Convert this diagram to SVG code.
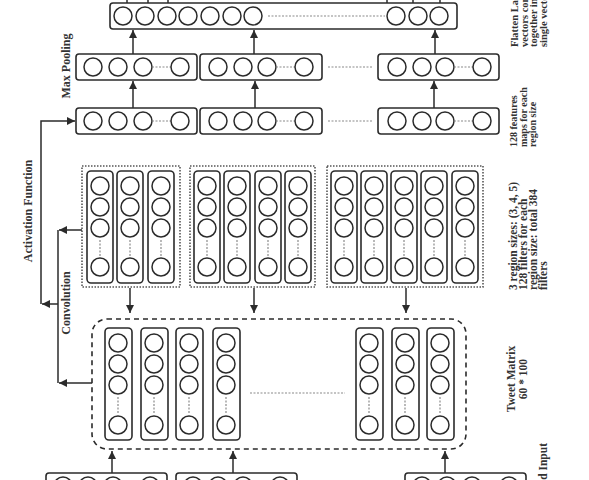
<svg xmlns="http://www.w3.org/2000/svg" width="589" height="480" viewBox="0 0 589 480">
<style>
.box{fill:none;stroke:#2b2b2b;stroke-width:1.6}
.c{fill:#fff;stroke:#2b2b2b;stroke-width:1.5}
.dot{fill:none;stroke:#8a8a8a;stroke-width:1.2;stroke-dasharray:2 1.5}
.grp{fill:none;stroke:#555;stroke-width:1.6;stroke-dasharray:1.5 1.5}
.tm{fill:none;stroke:#2b2b2b;stroke-width:1.6;stroke-dasharray:5 4}
.ln{fill:none;stroke:#2b2b2b;stroke-width:1.5;marker-end:url(#ah)}
.pl{fill:none;stroke:#2b2b2b;stroke-width:1.5}
.lbl{font-family:"Liberation Serif","Times New Roman",serif;font-weight:bold;fill:#333}
</style>
<defs>
<marker id="ah" markerUnits="userSpaceOnUse" markerWidth="9" markerHeight="8" refX="8" refY="4" orient="auto"><path d="M0,0 L8,4 L0,8 z" fill="#2b2b2b"/></marker>
</defs>
<rect width="589" height="480" fill="#fff"/>

<g id="flatten">
<rect class="box" x="110" y="3" width="347" height="26" rx="3"/>
<circle class="c" cx="123" cy="16" r="9"/><circle class="c" cx="145" cy="16" r="9"/><circle class="c" cx="167" cy="16" r="9"/><circle class="c" cx="188" cy="16" r="9"/><circle class="c" cx="210" cy="16" r="9"/><circle class="c" cx="232" cy="16" r="9"/><circle class="c" cx="253" cy="16" r="9"/>
<line class="dot" x1="268" y1="16" x2="385" y2="16"/>
<circle class="c" cx="396" cy="16" r="9"/><circle class="c" cx="418" cy="16" r="9"/><circle class="c" cx="439" cy="16" r="9"/>
</g>

<g id="maxpool">
<rect class="box" x="76" y="54" width="121" height="26" rx="3"/>
<circle class="c" cx="93" cy="67" r="9"/><circle class="c" cx="118" cy="67" r="9"/><circle class="c" cx="143" cy="67" r="9"/><line class="dot" x1="152" y1="67" x2="171" y2="67"/><circle class="c" cx="180" cy="67" r="9"/>
<rect class="box" x="200" y="54" width="122" height="26" rx="3"/>
<circle class="c" cx="218" cy="67" r="9"/><circle class="c" cx="243" cy="67" r="9"/><circle class="c" cx="267" cy="67" r="9"/><line class="dot" x1="276" y1="67" x2="295" y2="67"/><circle class="c" cx="304" cy="67" r="9"/>
<line class="dot" x1="328" y1="67" x2="372" y2="67"/>
<rect class="box" x="378" y="54" width="121" height="26" rx="3"/>
<circle class="c" cx="397" cy="67" r="9"/><circle class="c" cx="422" cy="67" r="9"/><circle class="c" cx="445" cy="67" r="9"/><line class="dot" x1="454" y1="67" x2="473" y2="67"/><circle class="c" cx="482" cy="67" r="9"/>
</g>

<g id="featuremaps">
<rect class="box" x="76" y="108" width="121" height="26" rx="3"/>
<circle class="c" cx="93" cy="121" r="9"/><circle class="c" cx="118" cy="121" r="9"/><circle class="c" cx="143" cy="121" r="9"/><line class="dot" x1="152" y1="121" x2="171" y2="121"/><circle class="c" cx="180" cy="121" r="9"/>
<rect class="box" x="200" y="108" width="122" height="26" rx="3"/>
<circle class="c" cx="218" cy="121" r="9"/><circle class="c" cx="243" cy="121" r="9"/><circle class="c" cx="267" cy="121" r="9"/><line class="dot" x1="276" y1="121" x2="295" y2="121"/><circle class="c" cx="304" cy="121" r="9"/>
<line class="dot" x1="328" y1="121" x2="372" y2="121"/>
<rect class="box" x="378" y="108" width="121" height="26" rx="3"/>
<circle class="c" cx="397" cy="121" r="9"/><circle class="c" cx="422" cy="121" r="9"/><circle class="c" cx="445" cy="121" r="9"/><line class="dot" x1="454" y1="121" x2="473" y2="121"/><circle class="c" cx="482" cy="121" r="9"/>
</g>

<g id="filters1">
<rect class="grp" x="82" y="166" width="98" height="121"/>
<rect class="box" x="87" y="171" width="26" height="112" rx="4"/><circle class="c" cx="100" cy="186" r="9"/><circle class="c" cx="100" cy="207" r="9"/><circle class="c" cx="100" cy="228" r="9"/><line class="dot" x1="100" y1="240" x2="100" y2="256"/><circle class="c" cx="100" cy="267" r="9"/>
<rect class="box" x="117" y="171" width="26" height="112" rx="4"/><circle class="c" cx="130" cy="186" r="9"/><circle class="c" cx="130" cy="207" r="9"/><circle class="c" cx="130" cy="228" r="9"/><line class="dot" x1="130" y1="240" x2="130" y2="256"/><circle class="c" cx="130" cy="267" r="9"/>
<rect class="box" x="148" y="171" width="26" height="112" rx="4"/><circle class="c" cx="161" cy="186" r="9"/><circle class="c" cx="161" cy="207" r="9"/><circle class="c" cx="161" cy="228" r="9"/><line class="dot" x1="161" y1="240" x2="161" y2="256"/><circle class="c" cx="161" cy="267" r="9"/>
</g>

<g id="filters2">
<rect class="grp" x="190" y="166" width="125" height="121"/>
<rect class="box" x="194" y="171" width="26" height="112" rx="4"/><circle class="c" cx="207" cy="186" r="9"/><circle class="c" cx="207" cy="207" r="9"/><circle class="c" cx="207" cy="228" r="9"/><line class="dot" x1="207" y1="240" x2="207" y2="256"/><circle class="c" cx="207" cy="267" r="9"/>
<rect class="box" x="224" y="171" width="26" height="112" rx="4"/><circle class="c" cx="237" cy="186" r="9"/><circle class="c" cx="237" cy="207" r="9"/><circle class="c" cx="237" cy="228" r="9"/><line class="dot" x1="237" y1="240" x2="237" y2="256"/><circle class="c" cx="237" cy="267" r="9"/>
<rect class="box" x="255" y="171" width="26" height="112" rx="4"/><circle class="c" cx="268" cy="186" r="9"/><circle class="c" cx="268" cy="207" r="9"/><circle class="c" cx="268" cy="228" r="9"/><line class="dot" x1="268" y1="240" x2="268" y2="256"/><circle class="c" cx="268" cy="267" r="9"/>
<rect class="box" x="285" y="171" width="26" height="112" rx="4"/><circle class="c" cx="298" cy="186" r="9"/><circle class="c" cx="298" cy="207" r="9"/><circle class="c" cx="298" cy="228" r="9"/><line class="dot" x1="298" y1="240" x2="298" y2="256"/><circle class="c" cx="298" cy="267" r="9"/>
</g>

<g id="filters3">
<rect class="grp" x="327" y="166" width="156" height="121"/>
<rect class="box" x="331" y="171" width="26" height="112" rx="4"/><circle class="c" cx="344" cy="186" r="9"/><circle class="c" cx="344" cy="207" r="9"/><circle class="c" cx="344" cy="228" r="9"/><line class="dot" x1="344" y1="240" x2="344" y2="256"/><circle class="c" cx="344" cy="267" r="9"/>
<rect class="box" x="361" y="171" width="26" height="112" rx="4"/><circle class="c" cx="374" cy="186" r="9"/><circle class="c" cx="374" cy="207" r="9"/><circle class="c" cx="374" cy="228" r="9"/><line class="dot" x1="374" y1="240" x2="374" y2="256"/><circle class="c" cx="374" cy="267" r="9"/>
<rect class="box" x="391" y="171" width="26" height="112" rx="4"/><circle class="c" cx="404" cy="186" r="9"/><circle class="c" cx="404" cy="207" r="9"/><circle class="c" cx="404" cy="228" r="9"/><line class="dot" x1="404" y1="240" x2="404" y2="256"/><circle class="c" cx="404" cy="267" r="9"/>
<rect class="box" x="421" y="171" width="26" height="112" rx="4"/><circle class="c" cx="434" cy="186" r="9"/><circle class="c" cx="434" cy="207" r="9"/><circle class="c" cx="434" cy="228" r="9"/><line class="dot" x1="434" y1="240" x2="434" y2="256"/><circle class="c" cx="434" cy="267" r="9"/>
<rect class="box" x="452" y="171" width="26" height="112" rx="4"/><circle class="c" cx="465" cy="186" r="9"/><circle class="c" cx="465" cy="207" r="9"/><circle class="c" cx="465" cy="228" r="9"/><line class="dot" x1="465" y1="240" x2="465" y2="256"/><circle class="c" cx="465" cy="267" r="9"/>
</g>

<g id="tweetmatrix">
<rect class="tm" x="92" y="319" width="374" height="130" rx="15"/>
<rect class="box" x="105" y="328" width="27" height="112" rx="4"/><circle class="c" cx="118" cy="343" r="9"/><circle class="c" cx="118" cy="364" r="9"/><circle class="c" cx="118" cy="385" r="9"/><line class="dot" x1="118" y1="397" x2="118" y2="413"/><circle class="c" cx="118" cy="425" r="9"/>
<rect class="box" x="141" y="328" width="27" height="112" rx="4"/><circle class="c" cx="154" cy="343" r="9"/><circle class="c" cx="154" cy="364" r="9"/><circle class="c" cx="154" cy="385" r="9"/><line class="dot" x1="154" y1="397" x2="154" y2="413"/><circle class="c" cx="154" cy="425" r="9"/>
<rect class="box" x="176" y="328" width="27" height="112" rx="4"/><circle class="c" cx="189" cy="343" r="9"/><circle class="c" cx="189" cy="364" r="9"/><circle class="c" cx="189" cy="385" r="9"/><line class="dot" x1="189" y1="397" x2="189" y2="413"/><circle class="c" cx="189" cy="425" r="9"/>
<rect class="box" x="213" y="328" width="27" height="112" rx="4"/><circle class="c" cx="226" cy="343" r="9"/><circle class="c" cx="226" cy="364" r="9"/><circle class="c" cx="226" cy="385" r="9"/><line class="dot" x1="226" y1="397" x2="226" y2="413"/><circle class="c" cx="226" cy="425" r="9"/>
<line class="dot" x1="250" y1="393" x2="345" y2="393"/>
<rect class="box" x="356" y="328" width="27" height="112" rx="4"/><circle class="c" cx="369" cy="343" r="9"/><circle class="c" cx="369" cy="364" r="9"/><circle class="c" cx="369" cy="385" r="9"/><line class="dot" x1="369" y1="397" x2="369" y2="413"/><circle class="c" cx="369" cy="425" r="9"/>
<rect class="box" x="392" y="328" width="27" height="112" rx="4"/><circle class="c" cx="405" cy="343" r="9"/><circle class="c" cx="405" cy="364" r="9"/><circle class="c" cx="405" cy="385" r="9"/><line class="dot" x1="405" y1="397" x2="405" y2="413"/><circle class="c" cx="405" cy="425" r="9"/>
<rect class="box" x="427" y="328" width="27" height="112" rx="4"/><circle class="c" cx="440" cy="343" r="9"/><circle class="c" cx="440" cy="364" r="9"/><circle class="c" cx="440" cy="385" r="9"/><line class="dot" x1="440" y1="397" x2="440" y2="413"/><circle class="c" cx="440" cy="425" r="9"/>
</g>

<g id="input">
<rect class="box" x="46" y="473" width="121" height="26" rx="3"/>
<circle class="c" cx="63" cy="486" r="9"/><circle class="c" cx="88" cy="486" r="9"/><circle class="c" cx="113" cy="486" r="9"/><circle class="c" cx="150" cy="486" r="9"/>
<rect class="box" x="176" y="473" width="121" height="26" rx="3"/>
<circle class="c" cx="193" cy="486" r="9"/><circle class="c" cx="218" cy="486" r="9"/><circle class="c" cx="243" cy="486" r="9"/><circle class="c" cx="280" cy="486" r="9"/>
<rect class="box" x="405" y="473" width="121" height="26" rx="3"/>
<circle class="c" cx="422" cy="486" r="9"/><circle class="c" cx="447" cy="486" r="9"/><circle class="c" cx="472" cy="486" r="9"/><circle class="c" cx="509" cy="486" r="9"/>
</g>

<g id="connectors">
<line class="pl" x1="127" y1="3" x2="127" y2="0"/><line class="pl" x1="148" y1="3" x2="148" y2="0"/><line class="pl" x1="168" y1="3" x2="168" y2="0"/>
<line class="pl" x1="387" y1="3" x2="387" y2="0"/><line class="pl" x1="413" y1="3" x2="413" y2="0"/><line class="pl" x1="440" y1="3" x2="440" y2="0"/>
<line class="ln" x1="133" y1="54" x2="133" y2="30"/>
<line class="ln" x1="254" y1="54" x2="254" y2="30"/>
<line class="ln" x1="435" y1="54" x2="435" y2="30"/>
<line class="ln" x1="133" y1="108" x2="133" y2="81"/>
<line class="ln" x1="255" y1="108" x2="255" y2="81"/>
<line class="ln" x1="434" y1="108" x2="434" y2="81"/>
<path class="ln" d="M41,304 L41,121 L75,121"/>
<line class="ln" x1="58" y1="304" x2="42" y2="304"/>
<line class="pl" x1="58" y1="230" x2="58" y2="383"/>
<line class="ln" x1="82" y1="230" x2="59" y2="230"/>
<line class="ln" x1="92" y1="383" x2="59" y2="383"/>
<line class="ln" x1="130" y1="288" x2="130" y2="313"/>
<line class="ln" x1="254" y1="288" x2="254" y2="313"/>
<line class="ln" x1="406" y1="288" x2="406" y2="313"/>
<line class="ln" x1="112" y1="473" x2="112" y2="451"/>
<line class="ln" x1="233" y1="473" x2="233" y2="451"/>
<line class="ln" x1="445" y1="473" x2="445" y2="451"/>
</g>

<g id="labels" class="lbl">
<text font-size="12" text-anchor="middle" transform="rotate(-90 32 211)" x="32" y="211">Activation Function</text>
<text font-size="12" text-anchor="middle" transform="rotate(-90 70 303)" x="70" y="303">Convolution</text>
<text font-size="12" text-anchor="middle" transform="rotate(-90 70 66)" x="70" y="66">Max Pooling</text>
<g font-size="10.5">
<text transform="rotate(-90 518 47)" x="518" y="47">Flatten Layer</text>
<text transform="rotate(-90 527.5 47)" x="527.5" y="47">vectors concatenated</text>
<text transform="rotate(-90 537 47)" x="537" y="47">together into a</text>
<text transform="rotate(-90 546.5 47)" x="546.5" y="47">single vector</text>
</g>
<g font-size="10">
<text transform="rotate(-90 517 147)" x="517" y="147">128 features</text>
<text transform="rotate(-90 526.5 147)" x="526.5" y="147">maps for each</text>
<text transform="rotate(-90 536 147)" x="536" y="147">region size</text>
</g>
<g font-size="11.5">
<text transform="rotate(-90 517 290)" x="517" y="290">3 region sizes: (3, 4, 5)</text>
<text transform="rotate(-90 527 290)" x="527" y="290">128 filters for each</text>
<text transform="rotate(-90 537 290)" x="537" y="290">region size: total 384</text>
<text transform="rotate(-90 547 290)" x="547" y="290">filters</text>
<text text-anchor="middle" transform="rotate(-90 515 379)" x="515" y="379">Tweet Matrix</text>
<text text-anchor="middle" transform="rotate(-90 527 379)" x="527" y="379">60 * 100</text>
<text text-anchor="end" transform="rotate(-90 547 443)" x="547" y="443">Word Embedded Input</text>
</g>
</g>
</svg>
